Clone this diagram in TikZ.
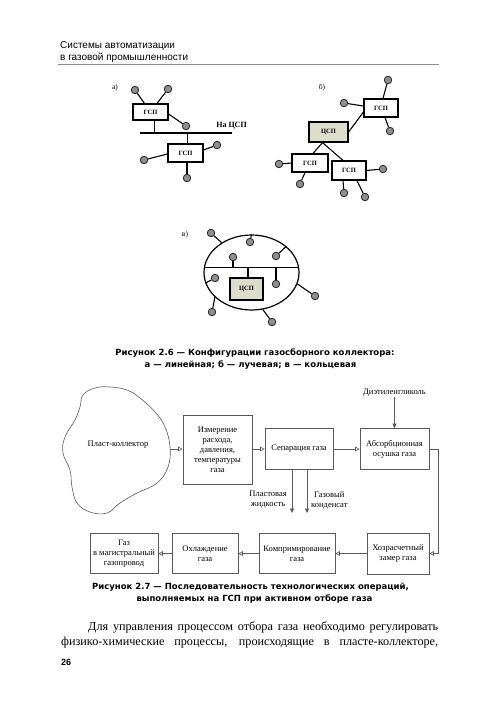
\documentclass[tikz,border=0pt]{standalone}
\usepackage{fontspec}
\setmainfont{Liberation Serif}
\newfontfamily\hdrfont{Liberation Sans}
\newfontfamily\capfont{DejaVu Sans}
\usetikzlibrary{arrows.meta,shapes.geometric,shadows,calc}
\definecolor{dotgray}{HTML}{8E8E8E}
\definecolor{cspfill}{HTML}{DDDDCC}
\definecolor{flowline}{HTML}{5A5A5A}
\begin{document}
\begin{tikzpicture}[x=1pt,y=-1pt,
  gsp/.style={draw=black, line width=1.2pt, fill=white, inner sep=0pt,
    font=\fontsize{6.5}{7}\selectfont\bfseries,
    drop shadow={shadow xshift=1.2pt, shadow yshift=-1.2pt, fill=black!35}},
  csp/.style={gsp, fill=cspfill},
  dot/.style={circle, draw=black!85, line width=0.8pt, fill=dotgray, minimum size=7.5pt, inner sep=0pt},
  link/.style={line width=1.1pt},
  bus/.style={line width=1.6pt},
  flowbox/.style={draw=flowline, line width=0.6pt, fill=white, align=center, inner sep=0pt,
    font=\fontsize{8.5}{10}\selectfont},
  flowtext/.style={align=center, inner sep=0pt, font=\fontsize{8.5}{10}\selectfont},
  openarr/.style={draw=flowline, line width=0.6pt, -{Triangle[open,length=4.5pt,width=4.5pt]}},
  fillarr/.style={draw=flowline, line width=0.6pt, -{Triangle[length=4.5pt,width=4pt]}},
  lbl/.style={inner sep=0pt, font=\fontsize{7.5}{8}\selectfont},
  figcap/.style={inner sep=0pt, font=\capfont\fontsize{8.5}{10}\selectfont\bfseries},
  hdr/.style={inner sep=0pt, anchor=west, font=\hdrfont\fontsize{10}{12}\selectfont}
]
\useasboundingbox[fill=white] (0,0) rectangle (500,710);

% ---------- header ----------
\node[hdr] (h1) at (60,46) {Системы автоматизации};
\node[hdr] (h2) at (60,57.5) {в газовой промышленности};
\coordinate (hlL) at (58,64.5);
\coordinate (hlR) at (439,64.5);
\draw[black!45, line width=0.8pt] (hlL) -- (hlR);

% ---------- Fig 2.6 a ----------
\node[lbl] (la) at (115,88) {а)};
\node[gsp, minimum width=35pt, minimum height=16pt] (a1) at (150.5,112) {ГСП};
\node[dot] (a1c1) at (135,90) {};
\node[dot] (a1c2) at (168,89) {};
\node[dot] (a1c3) at (186,126) {};
\draw[link] (a1c1) -- (a1);
\draw[link] (a1c2) -- (a1);
\draw[link] (a1c3) -- ([yshift=-2pt]a1.east);
\coordinate (busL) at (140,133);
\coordinate (busR) at (232,133);
\draw[bus] (busL) -- (busR);
\draw[link] ([xshift=4pt]a1.south) -- ([xshift=4pt]a1.south |- busL);
\node[inner sep=0pt, font=\fontsize{8}{9}\selectfont\bfseries] (nacsp) at (231.5,126) {На ЦСП};
\node[gsp, minimum width=35pt, minimum height=18pt] (a2) at (185.5,153) {ГСП};
\draw[link] ([xshift=2pt]a2.north) -- ([xshift=2pt]a2.north |- busL);
\node[dot] (a2c1) at (144,160) {};
\node[dot] (a2c2) at (217,145) {};
\node[dot] (a2c3) at (187,178) {};
\draw[link] (a2c1) -- ([yshift=-1pt]a2.west);
\draw[link] (a2c2) -- ([yshift=3pt]a2.east);
\draw[link] (a2c3) -- ([xshift=1.5pt]a2.south);

% ---------- Fig 2.6 b ----------
\node[lbl] (lb) at (322,88) {б)};
\node[gsp, minimum width=34pt, minimum height=18pt] (b1) at (381,108) {ГСП};
\node[csp, minimum width=39pt, minimum height=20pt] (bc) at (328.5,132) {ЦСП};
\node[gsp, minimum width=36pt, minimum height=18pt] (b2) at (310,163) {ГСП};
\node[gsp, minimum width=34pt, minimum height=19pt] (b3) at (349,170.5) {ГСП};
\node[dot] (b1c1) at (388,80) {};
\node[dot] (b1c2) at (344,103) {};
\node[dot] (b1c3) at (390,131) {};
\node[dot] (b2c1) at (279,164) {};
\node[dot] (b2c2) at (300,184) {};
\node[dot] (b3c1) at (383,169) {};
\node[dot] (b3c2) at (344,193) {};
\node[dot] (b3c3) at (365,197) {};
\draw[link] (bc.east) -- ([yshift=-4pt]b1.west);
\draw[link] ([xshift=-6pt]bc.south) -- ([xshift=3pt]b2.north);
\draw[link] ([xshift=-6pt]bc.south) -- ([xshift=-6pt]b3.north);
\draw[link] (b1c1) -- ([xshift=2pt]b1.north);
\draw[link] (b1c2) -- ([yshift=2pt]b1.west);
\draw[link] (b1c3) -- ([xshift=4pt]b1.south);
\draw[link] (b2c1) -- (b2.west);
\draw[link] (b2c2) -- ([xshift=-5pt]b2.south);
\draw[link] (b3c1) -- (b3.east);
\draw[link] (b3c2) -- ([xshift=-6pt]b3.south);
\draw[link] (b3c3) -- ([xshift=8pt]b3.south);

% ---------- Fig 2.6 v ----------
\node[lbl] (lv) at (185,235) {в)};
\node[draw, ellipse, line width=1.2pt, minimum width=95pt, minimum height=75pt, inner sep=0pt] (ring) at (251.5,272.5) {};
\draw[link] (ring.174) -- (ring.6);
\node[csp, minimum width=33pt, minimum height=22pt] (vc) at (246.5,289) {ЦСП};
\draw[link] ([xshift=1.5pt]vc.north) -- ([xshift=1.5pt]vc.north |- ring.174);
\node[dot] (v1) at (250,242) {};
\node[dot] (v2) at (276,256) {};
\node[dot] (v3) at (233,257) {};
\node[dot] (v4) at (276,284) {};
\node[dot] (v5) at (215,278) {};
\node[dot] (v6) at (211,233) {};
\node[dot] (v7) at (212,312) {};
\node[dot] (v8) at (272,322) {};
\node[dot] (v9) at (315,296) {};
\draw[link] (ring.90) -- (v1);
\draw[link] (ring.37) -- (v2);
\draw[link] (v3) -- (v3 |- ring.174);
\draw[link] (v4) -- (v4 |- ring.174);
\draw[link] (ring.193) -- (v5);
\draw[link] (ring.135) -- (v6);
\draw[link] (ring.214) -- (v7);
\draw[link] (ring.287) -- (v8);
\draw[link] (ring.346) -- (v9);

% ---------- caption 2.6 ----------
\node[figcap] (cap6a) at (255,353) {Рисунок 2.6 — Конфигурации газосборного коллектора:};
\node[figcap] (cap6b) at (250.5,365) {а — линейная; б — лучевая; в — кольцевая};

% ---------- Fig 2.7 ----------
\draw[flowline, line width=0.6pt] plot[smooth cycle, tension=0.7] coordinates {
  (83,395) (95,388) (110,387) (127,390) (140,398) (155,412) (165,427) (170,447)
  (168,467) (157,483) (137,493) (120,503) (107,513) (90,512) (77,503) (72,487)
  (70,470) (63,453) (65,437) (75,420) (80,407)};
\node[flowtext] (blob) at (118,445) {Пласт-коллектор};
\coordinate (blobR) at (170,449);

\node[flowbox, minimum width=69pt, minimum height=69pt] (izm) at (217.5,449.5)
  {Измерение\\расхода,\\давления,\\температуры\\газа};
\node[flowbox, minimum width=68pt, minimum height=41pt] (sep) at (299,449) {Сепарация газа};
\node[flowbox, minimum width=69pt, minimum height=41pt] (abs) at (394.5,449) {Абсорбционная\\осушка газа};
\node[flowbox, minimum width=62pt, minimum height=41pt] (hoz) at (398,553.5) {Хозрасчетный\\замер газа};
\node[flowbox, minimum width=76pt, minimum height=40pt] (komp) at (297,553.5) {Компримирование\\газа};
\node[flowbox, minimum width=66pt, minimum height=40pt] (ohl) at (205,553.5) {Охлаждение\\газа};
\node[flowbox, minimum width=68pt, minimum height=40pt] (gaz) at (124,553.5) {Газ\\в магистральный\\газопровод};

\node[flowtext] (deg) at (394.5,393) {Диэтиленгликоль};
\draw[fillarr] (deg) -- (abs);

\draw[openarr] (blobR) -- (izm.west |- blobR);
\draw[openarr] (izm.east |- sep) -- (sep);
\draw[openarr] (sep) -- (abs);
\draw[openarr] (abs.east) -- ++(9,0) |- (hoz.east);
\draw[openarr] (hoz) -- (komp);
\draw[openarr] (komp) -- (ohl);
\draw[openarr] (ohl) -- (gaz);

\coordinate (pj) at (292,513);
\coordinate (gk) at (307,513);
\draw[fillarr] (sep.south -| pj) -- (pj);
\draw[fillarr] (sep.south -| gk) -- (gk);
\node[flowtext, anchor=east] (pjl) at (287,500) {Пластовая\\жидкость};
\node[flowtext, anchor=west] (gkl) at (311,500) {Газовый\\конденсат};

% ---------- caption 2.7 ----------
\node[figcap] (cap7a) at (250.5,587) {Рисунок 2.7 — Последовательность технологических операций,};
\node[figcap] (cap7b) at (254.5,599) {выполняемых на ГСП при активном отборе газа};

% ---------- body text ----------
\node[inner sep=0pt, anchor=west, font=\fontsize{12.2}{16}\selectfont] (body1) at (88,627)
  {\makebox[350pt][s]{Для управления процессом отбора газа необходимо регулировать}};
\node[inner sep=0pt, anchor=west, font=\fontsize{12.2}{16}\selectfont] (body2) at (61,643)
  {\makebox[377pt][s]{физико-химические процессы, происходящие в пласте-коллекторе,}};
\node[inner sep=0pt, anchor=west, font=\hdrfont\fontsize{9}{10}\selectfont\bfseries] (pnum) at (61,662) {26};
\end{tikzpicture}
\end{document}
